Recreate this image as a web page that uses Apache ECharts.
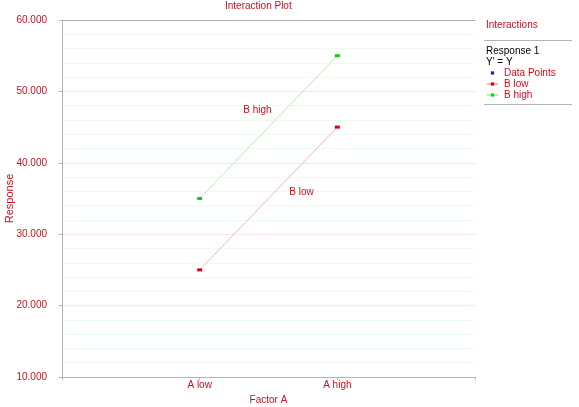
<!DOCTYPE html>
<html>
<head>
<meta charset="utf-8">
<script src="https://cdn.jsdelivr.net/npm/echarts@6/dist/echarts.min.js"></script>
<style>
html,body{margin:0;padding:0;background:#fff;}
#c{width:579px;height:407px;}
</style>
</head>
<body>
<div id="c"></div>
<script>
// ---- data ----
const factorLevels = ['A low', 'A high'];
const factorPos = [1, 2];
const bLow = [25000, 45000];
const bHigh = [35000, 55000];
const labelBHigh = [1.42, 47400];
const labelBLow = [1.74, 35900];
const yMin = 10000, yMax = 60000, yStep = 10000;

const RED = '#cc0f1e';
const FONT = 'Liberation Sans';
const AXIS_GRAY = '#b4b4b4';

function fmt(v){
  return String(Math.round(v)).replace(/\B(?=(\d{3})+(?!\d))/g, '.');
}
function pts(vals){ return vals.map((v,i)=>[factorPos[i], v]); }

const chart = echarts.init(document.getElementById('c'), null, {renderer:'canvas'});
chart.setOption({
  animation:false,
  textStyle:{fontFamily:FONT},
  title:[
    {text:'Interaction Plot', left:225, top:1, padding:0, textStyle:{fontFamily:FONT,fontSize:10,fontWeight:'normal',color:RED}},
    {text:'Interactions', left:486, top:20, padding:0, textStyle:{fontFamily:FONT,fontSize:10,fontWeight:'normal',color:RED}},
    {text:'Response 1', left:486, top:46, padding:0, textStyle:{fontFamily:FONT,fontSize:10,fontWeight:'normal',color:'#000'}},
    {text:"Y' = Y", left:486, top:57, padding:0, textStyle:{fontFamily:FONT,fontSize:10,fontWeight:'normal',color:'#000'}}
  ],
  graphic:[
    {type:'line', shape:{x1:484,y1:40.5,x2:572,y2:40.5}, style:{stroke:AXIS_GRAY,lineWidth:1}},
    {type:'line', shape:{x1:484,y1:104.5,x2:572,y2:104.5}, style:{stroke:AXIS_GRAY,lineWidth:1}}
  ],
  legend:{
    orient:'vertical', left:486, top:68, padding:0, itemGap:1, itemWidth:11, itemHeight:4,
    textStyle:{fontFamily:FONT,fontSize:10,color:RED,padding:[0,0,0,1]},
    data:['Data Points','B low','B high']
  },
  grid:{left:62, right:104, top:20, bottom:30, containLabel:false, outerBoundsMode:'none'},
  xAxis:[{
    type:'value', min:0, max:3, interval:1,
    name:'Factor A', nameLocation:'middle', nameGap:18, nameMoveOverlap:false,
    nameTextStyle:{fontFamily:FONT,fontSize:10,color:RED},
    axisLine:{show:true,lineStyle:{color:AXIS_GRAY}},
    axisTick:{show:true,length:3,lineStyle:{color:AXIS_GRAY}},
    axisLabel:{fontFamily:FONT,fontSize:10,color:RED,margin:3,
      formatter:v=>{const i=factorPos.indexOf(v);return i>=0?factorLevels[i]:'';}},
    splitLine:{show:false}
  },{
    type:'value', position:'top', min:0, max:3, interval:1,
    axisLine:{show:true,lineStyle:{color:AXIS_GRAY}},
    axisTick:{show:false}, axisLabel:{show:false}, splitLine:{show:false}
  }],
  yAxis:[{
    type:'value', min:yMin, max:yMax, interval:yStep,
    name:'Response', nameLocation:'middle', nameGap:47, nameRotate:90, nameMoveOverlap:false,
    nameTextStyle:{fontFamily:FONT,fontSize:11,color:RED},
    axisLine:{show:true,lineStyle:{color:AXIS_GRAY}},
    axisTick:{show:true,length:3,lineStyle:{color:AXIS_GRAY}},
    axisLabel:{fontFamily:FONT,fontSize:10,color:RED,margin:15,formatter:fmt},
    splitLine:{show:true,lineStyle:{color:'#fbe4ea',width:1}},
    minorTick:{show:false, splitNumber:5},
    minorSplitLine:{show:true,lineStyle:{color:'#eefaee',width:1}}
  },{
    type:'value', position:'right', min:yMin, max:yMax, interval:yStep,
    axisLine:{show:true,lineStyle:{color:AXIS_GRAY}},
    axisTick:{show:false}, axisLabel:{show:false}, splitLine:{show:false}
  }],
  series:[
    {name:'Data Points', type:'line', data:[], symbol:'rect', symbolSize:[5,2],
      itemStyle:{color:'#1020d0'}, lineStyle:{color:'rgba(0,0,0,0)',width:0}},
    {name:'B low', type:'line', data:pts(bLow), symbol:'rect', symbolSize:[5,3],
      itemStyle:{color:'#d80010'}, lineStyle:{color:'#ffb4b4',width:1},
      markPoint:{symbol:'rect', symbolSize:1, itemStyle:{color:'rgba(0,0,0,0)'},
        label:{show:true,position:'inside',formatter:'B low',color:RED,fontFamily:FONT,fontSize:10},
        data:[{coord:labelBLow}]}},
    {name:'B high', type:'line', data:pts(bHigh), symbol:'rect', symbolSize:[5,3],
      itemStyle:{color:'#18c818'}, lineStyle:{color:'#b4f0b4',width:1},
      markPoint:{symbol:'rect', symbolSize:1, itemStyle:{color:'rgba(0,0,0,0)'},
        label:{show:true,position:'inside',formatter:'B high',color:RED,fontFamily:FONT,fontSize:10},
        data:[{coord:labelBHigh}]}}
  ]
});
</script>
</body>
</html>
